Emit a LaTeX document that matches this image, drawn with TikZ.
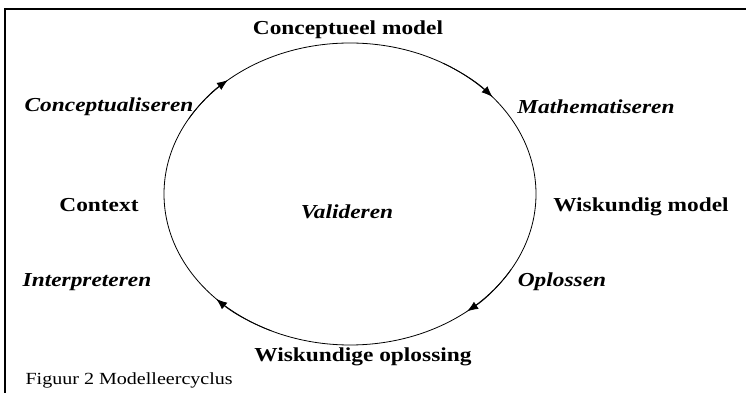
\documentclass[tikz,border=0pt]{standalone}
\usepackage{fontspec}
\setmainfont{Liberation Serif}[FakeStretch=1.18]
\usetikzlibrary{arrows.meta,calc}
\tikzset{
  fase/.style={font=\fontsize{19.8}{23}\selectfont\bfseries},
  actie/.style={font=\fontsize{19.8}{23}\selectfont\bfseries\itshape},
  pijl/.style={-{Latex[length=11pt,width=8.5pt]},line width=0.8pt},
}
\begin{document}
\begin{tikzpicture}[x=1pt,y=1pt]
\useasboundingbox (0,0) rectangle (746,393);
\draw[line width=2pt] (4.5,0)--(4.5,384)--(746,384);
\coordinate (c) at (350,199);
\draw[line width=0.8pt] (c) ellipse[x radius=186,y radius=151];
% pijlen op de cyclus (met de klok mee)
\draw[pijl] ($(c)+(150:186 and 151)$) arc[start angle=150,end angle=131,x radius=186,y radius=151];
\draw[pijl] ($(c)+(60:186 and 151)$) arc[start angle=60,end angle=40,x radius=186,y radius=151];
\draw[pijl] ($(c)+(-30:186 and 151)$) arc[start angle=-30,end angle=-51,x radius=186,y radius=151];
\draw[pijl] ($(c)+(245:186 and 151)$) arc[start angle=245,end angle=224,x radius=186,y radius=151];
\node[fase] (cm) at (348,363) {Conceptueel model};
\node[fase] (wm) at (641,186) {Wiskundig model};
\node[fase] (wo) at (363,36) {Wiskundige oplossing};
\node[fase] (ctx) at (99,188) {Context};
\node[actie] (cpt) at (109,286) {Conceptualiseren};
\node[actie] (mat) at (596,286) {Mathematiseren};
\node[actie] (opl) at (562,111) {Oplossen};
\node[actie] (int) at (87,111) {Interpreteren};
\node[actie] (val) at (347,181) {Valideren};
\node[anchor=base west,font=\fontsize{17}{20}\selectfont] (fig) at (22,8) {Figuur 2 Modelleercyclus};
\end{tikzpicture}
\end{document}
